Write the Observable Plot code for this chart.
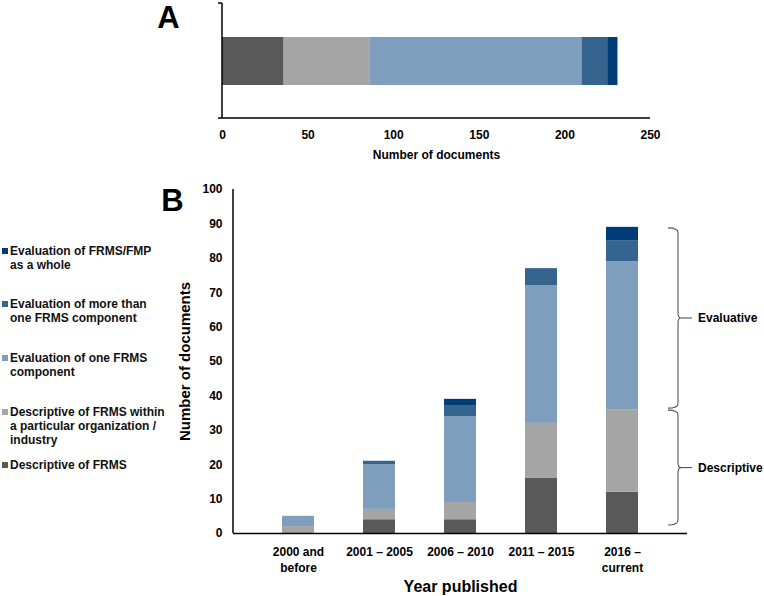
<!DOCTYPE html>
<html><head><meta charset="utf-8">
<script src="https://cdn.jsdelivr.net/npm/d3@7"></script>
<script src="https://cdn.jsdelivr.net/npm/@observablehq/plot@0.6"></script>
<style>
html,body{margin:0;padding:0;background:#fff;}
#root{position:relative;width:764px;height:596px;font-family:"Liberation Sans",Arial,sans-serif;font-weight:bold;overflow:hidden}
#a,#b{position:absolute;left:0}
#a{top:0} #b{top:170px}
.leg{position:absolute;left:0;font-size:12px;line-height:14px;color:#111}
.leg i{position:absolute;left:2px;top:4px;width:6px;height:6px}
.leg span{display:block;padding-left:10px;white-space:pre}
</style></head>
<body><div id="root"><div id="a"></div><div id="b"></div><div id="legend"></div></div>
<script>
// ---- data ----
const periods = ["2000 and before", "2001 – 2005", "2006 – 2010", "2011 – 2015", "2016 – current"];
const periodLabels = ["2000 and\nbefore", "2001 – 2005", "2006 – 2010", "2011 – 2015", "2016 –\ncurrent"];
const categories = [
  "Descriptive of FRMS",
  "Descriptive of FRMS within a particular organization / industry",
  "Evaluation of one FRMS component",
  "Evaluation of more than one FRMS component",
  "Evaluation of FRMS/FMP as a whole"
];
const legendLabels = [
  "Descriptive of FRMS",
  "Descriptive of FRMS within\na particular organization /\nindustry",
  "Evaluation of one FRMS\ncomponent",
  "Evaluation of more than\none FRMS component",
  "Evaluation of FRMS/FMP\nas a whole"
];
const colors = ["#595959", "#a5a5a5", "#7f9ebd", "#35648f", "#003c77"];
const descFRMS  = [0, 4, 4, 16, 12];
const descOrg   = [2, 3, 5, 16, 24];
const evalOne   = [3, 13, 25, 40, 43];
const evalMore  = [0, 1, 3, 5, 6];
const evalWhole = [0, 0, 2, 0, 4];
const xTicksA = [0, 50, 100, 150, 200, 250];
const yTicksB = [0, 10, 20, 30, 40, 50, 60, 70, 80, 90, 100];
const braceLabels = ["Evaluative", "Descriptive"];
const groupA = "All documents";

const seriesValues = [descFRMS, descOrg, evalOne, evalMore, evalWhole];
const font = "'Liberation Sans', Arial, sans-serif";

// ---- panel A ----
const totals = categories.map((c, j) => ({group: groupA, cat: c, value: d3.sum(seriesValues[j])}));
const axisLinesA = (index, scales, values, dims) => {
  const g = d3.create("svg:g").attr("stroke", "#000").attr("stroke-width", 1.5);
  const l = dims.marginLeft, r = dims.width - dims.marginRight, t = dims.marginTop, b = dims.height - dims.marginBottom;
  g.append("line").attr("x1", l).attr("x2", l).attr("y1", t).attr("y2", b);
  g.append("line").attr("x1", l).attr("x2", r).attr("y1", b).attr("y2", b);
  g.append("line").attr("x1", l - 4).attr("x2", l).attr("y1", t).attr("y2", t);
  g.append("line").attr("x1", l - 4).attr("x2", l).attr("y1", b).attr("y2", b);
  return g.node();
};
const plotA = Plot.plot({
  width: 764, height: 170,
  marginTop: 3, marginBottom: 52, marginLeft: 222, marginRight: 114,
  style: {fontFamily: font, fontWeight: "bold", fontSize: "12px", color: "#000", background: "transparent", overflow: "visible"},
  x: {domain: [0, 250], ticks: xTicksA, tickSize: 0, tickPadding: 12, label: null},
  y: {domain: [groupA], padding: 0.41, axis: null},
  color: {domain: categories, range: colors},
  marks: [
    Plot.barX(totals, {y: "group", x: "value", fill: "cat"}),
    axisLinesA,
    Plot.text(["Number of documents"], {text: d => d, frameAnchor: "bottom", textAnchor: "middle", lineAnchor: "middle", dy: 37, fontSize: 12, fontWeight: "bold"}),
    Plot.text(["A"], {text: d => d, frameAnchor: "top-left", textAnchor: "middle", lineAnchor: "middle", dx: -54, dy: 15, fontSize: 31, fontWeight: "bold"})
  ]
});
document.getElementById("a").append(plotA);

// ---- panel B ----
const rowsB = categories.flatMap((c, j) => periods.map((p, i) => ({period: p, cat: c, value: seriesValues[j][i]})));
const last = periods.length - 1;
const descTop = descFRMS[last] + descOrg[last];
const totalLast = d3.sum(seriesValues, s => s[last]);
const braces = [
  {label: braceLabels[0], lo: descTop, hi: totalLast, inLo: 1, inHi: 1},
  {label: braceLabels[1], lo: 0, hi: descTop, inLo: 8, inHi: 1}
];
const yAxisLineB = (index, scales, values, dims) => {
  const l = dims.marginLeft, t = dims.marginTop, b = dims.height - dims.marginBottom;
  return d3.create("svg:line").attr("x1", l).attr("x2", l).attr("y1", t).attr("y2", b)
    .attr("stroke", "#000").attr("stroke-width", 1.5).node();
};
const braceMark = (index, scales, values, dims) => {
  const g = d3.create("svg:g");
  const x0 = dims.width - dims.marginRight - 19, w = 10, r = 5;
  for (const br of braces) {
    const ya = scales.y(br.hi) + br.inHi, yb = scales.y(br.lo) - br.inLo, ym = (ya + yb) / 2;
    const xv = x0 + w;
    g.append("path")
      .attr("fill", "none").attr("stroke", "#555").attr("stroke-width", 1.1)
      .attr("d", `M${x0},${ya}Q${xv},${ya} ${xv},${ya + r}L${xv},${ym - r}Q${xv},${ym} ${xv + 3},${ym}Q${xv},${ym} ${xv},${ym + r}L${xv},${yb - r}Q${xv},${yb} ${x0},${yb}`);
    g.append("line").attr("x1", xv + 3).attr("x2", xv + 14).attr("y1", ym).attr("y2", ym)
      .attr("stroke", "#555").attr("stroke-width", 1.1);
    g.append("text").attr("x", xv + 20).attr("y", ym).attr("dy", "0.35em")
      .attr("text-anchor", "start")
      .attr("font-size", 12).attr("font-weight", "bold").attr("fill", "#000").text(br.label);
  }
  return g.node();
};
const plotB = Plot.plot({
  width: 764, height: 426,
  marginTop: 19, marginBottom: 63, marginLeft: 233, marginRight: 77,
  style: {fontFamily: font, fontWeight: "bold", fontSize: "12px", color: "#000", background: "transparent", overflow: "visible"},
  x: {domain: periods, padding: 0.6, axis: null},
  y: {domain: [0, 100], ticks: yTicksB, tickSize: 0, tickPadding: 11, label: null},
  color: {domain: categories, range: colors},
  marks: [
    Plot.barY(rowsB, {x: "period", y: "value", fill: "cat"}),
    Plot.ruleY([0], {stroke: "#000", strokeWidth: 1.5}),
    yAxisLineB,
    braceMark,
    Plot.text(periods, {x: d => d, text: d => periodLabels[periods.indexOf(d)], frameAnchor: "bottom",
      textAnchor: "middle", lineAnchor: "top", lineHeight: 1.35, dy: 11, fontSize: 12, fontWeight: "bold"}),
    Plot.text(["Year published"], {text: d => d, frameAnchor: "bottom", textAnchor: "middle", lineAnchor: "middle", dy: 53, fontSize: 16, fontWeight: "bold"}),
    Plot.text(["Number of documents"], {text: d => d, frameAnchor: "left", textAnchor: "middle", lineAnchor: "middle", dx: -48, rotate: -90, fontSize: 15, fontWeight: "bold"}),
    Plot.text(["B"], {text: d => d, frameAnchor: "top-left", textAnchor: "middle", lineAnchor: "middle", dx: -61, dy: 12, fontSize: 31, fontWeight: "bold"})
  ]
});
document.getElementById("b").append(plotB);

// ---- legend (top to bottom = reverse stack order) ----
const legendTops = [458, 405, 351, 297, 244];
const leg = d3.select("#legend");
categories.forEach((c, j) => {
  const item = leg.append("div").attr("class", "leg").style("top", legendTops[j] + "px");
  item.append("i").style("background", colors[j]);
  item.append("span").text(legendLabels[j]);
});
</script>
</body></html>
